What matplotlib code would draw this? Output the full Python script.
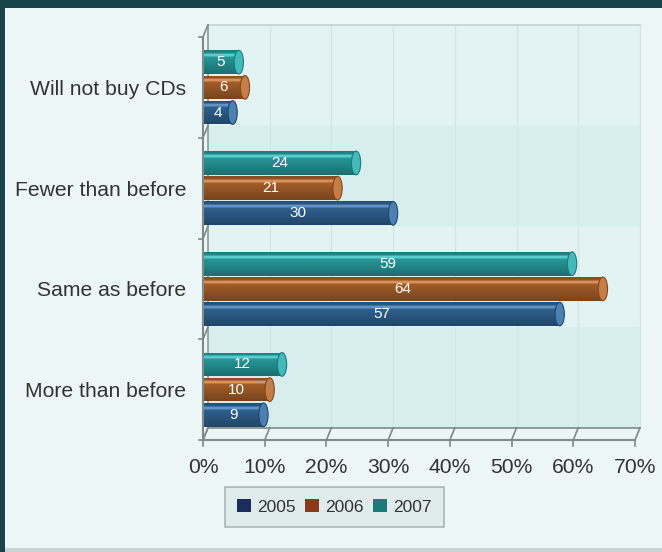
import matplotlib.pyplot as plt
import numpy as np
from matplotlib.patches import Rectangle, Ellipse
import matplotlib.colors as mcolors

plt.rcParams['font.family'] = ['Liberation Sans', 'DejaVu Sans']

# data
categories = ["More than before", "Same as before", "Fewer than before", "Will not buy CDs"]
years = ["2005", "2006", "2007"]
v2005 = [9, 57, 30, 4]
v2006 = [10, 64, 21, 6]
v2007 = [12, 59, 24, 5]
series = [v2005, v2006, v2007]

bar_colors = ["#2f6190", "#a55f2a", "#27999a"]
legend_colors = ["#1b2d5c", "#8a3b1c", "#1b7b7b"]

fig = plt.figure(figsize=(6.62, 5.52), dpi=100, facecolor="#1a4548")
# light panel behind everything
bg = fig.add_axes([0, 0, 1, 1], zorder=-10)
bg.set_xlim(0, 662)
bg.set_ylim(552, 0)
bg.axis("off")
bg.add_patch(Rectangle((5, 8), 657, 540, facecolor="#ecf6f7", edgecolor="none"))
bg.add_patch(Rectangle((5, 548), 657, 4, facecolor="#c9d3d4", edgecolor="none"))

ax = fig.add_axes([203 / 662, 1 - 440 / 552, 432 / 662, 403 / 552])
ax.set_facecolor("none")
ax.set_xlim(0, 70)
ax.set_ylim(-0.5, 3.5)

dx, dy = 0.8, 0.12  # 3d depth offsets in data units

# back wall and bands
ax.add_patch(Rectangle((dx, -0.5 + dy), 70, 4.0, facecolor="#e3f3f3", edgecolor="none", zorder=0,
                       clip_on=False))
for i in range(len(categories)):
    if i % 2 == 0:
        ax.add_patch(Rectangle((dx, i - 0.5 + dy), 70, 1.0, facecolor="#d8eeee", edgecolor="none",
                               zorder=0, clip_on=False))
# vertical wall grid
for x in range(10, 80, 10):
    ax.plot([x + dx, x + dx], [-0.5 + dy, 3.5 + dy], color="#d3e6e6", lw=1, zorder=0.5, clip_on=False)
ax.plot([dx, 70 + dx], [3.5 + dy, 3.5 + dy], color="#c3d3d3", lw=1.2, zorder=0.5, clip_on=False)
ax.plot([dx, dx], [-0.5 + dy, 3.5 + dy], color="#8a9a9a", lw=1.2, zorder=0.5, clip_on=False)

# floor
ax.plot([0, 70], [-0.5, -0.5], color="#7d8a8a", lw=1.5, zorder=3, clip_on=False)
ax.plot([dx, 70 + dx], [-0.5 + dy, -0.5 + dy], color="#7d8a8a", lw=1.2, zorder=0.6, clip_on=False)
for x in range(0, 80, 10):
    ax.plot([x, x + dx], [-0.5, -0.5 + dy], color="#7d8a8a", lw=1.2, zorder=3, clip_on=False)
    ax.plot([x, x], [-0.5, -0.56], color="#7d8a8a", lw=1.2, zorder=3, clip_on=False)
# left front axis with slanted ticks
ax.plot([0, 0], [-0.5, 3.5], color="#7d8a8a", lw=1.5, zorder=3, clip_on=False)
for y in np.arange(-0.5, 4.0, 1.0):
    ax.plot([0, dx], [y, y + dy], color="#7d8a8a", lw=1.2, zorder=3, clip_on=False)
    ax.plot([-0.6, 0], [y, y], color="#7d8a8a", lw=1.2, zorder=3, clip_on=False)

# cylinder bars (drawn at mid depth, so they reach a bit past the front scale)
bh = 0.235
offsets = [-0.25, 0.0, 0.25]
shade = np.concatenate([np.linspace(0.8, 1.0, 25), np.linspace(1.0, 0.72, 75)])
for s, vals in enumerate(series):
    base = np.array(mcolors.to_rgb(bar_colors[s]))
    img = np.clip(base[None, :] * shade[:, None], 0, 1)[:, None, :]
    img[15:27, 0] = np.clip(base + 0.2, 0, 1)  # highlight stripe
    for i, v in enumerate(vals):
        yc = i + offsets[s]
        end = v + dx
        rect = Rectangle((0, yc - bh / 2), end, bh, facecolor="none", edgecolor="none")
        ax.add_patch(rect)
        im = ax.imshow(img, extent=[0, end, yc - bh / 2, yc + bh / 2], aspect="auto",
                       origin="upper", zorder=2, interpolation="bilinear")
        im.set_clip_path(rect)
        ax.add_patch(Ellipse((end, yc), 1.5, bh, facecolor=np.clip(base + 0.12, 0, 1),
                             edgecolor=np.clip(base - 0.1, 0, 1), lw=0.8, zorder=2.1))
        ax.text(end / 2, yc, str(v), ha="center", va="center", color="white", fontsize=11, zorder=4)

ax.set_xticks(range(0, 80, 10))
ax.set_xticklabels([f"{x}%" for x in range(0, 80, 10)])
ax.set_yticks(range(len(categories)))
ax.set_yticklabels(categories)
ax.tick_params(axis="both", length=0, labelsize=15.2, colors="#333333")
ax.tick_params(axis="x", pad=13)
ax.tick_params(axis="y", pad=12)
for sp in ax.spines.values():
    sp.set_visible(False)

handles = [Rectangle((0, 0), 1, 1, facecolor=c, edgecolor="none") for c in legend_colors]
leg = fig.legend(handles, years, loc="upper left", bbox_to_anchor=(225 / 662, 1 - 487 / 552),
                 borderaxespad=0, ncol=3, fontsize=12.5, frameon=True, fancybox=False,
                 handlelength=0.8, handleheight=0.8, columnspacing=0.55, handletextpad=0.35,
                 borderpad=0.7)
leg.get_frame().set_facecolor("#dde9ea")
leg.get_frame().set_edgecolor("#9aa7a8")
leg.get_frame().set_linewidth(1.2)
for t in leg.get_texts():
    t.set_color("#333333")

plt.savefig("out.png", dpi=100, facecolor=fig.get_facecolor())
